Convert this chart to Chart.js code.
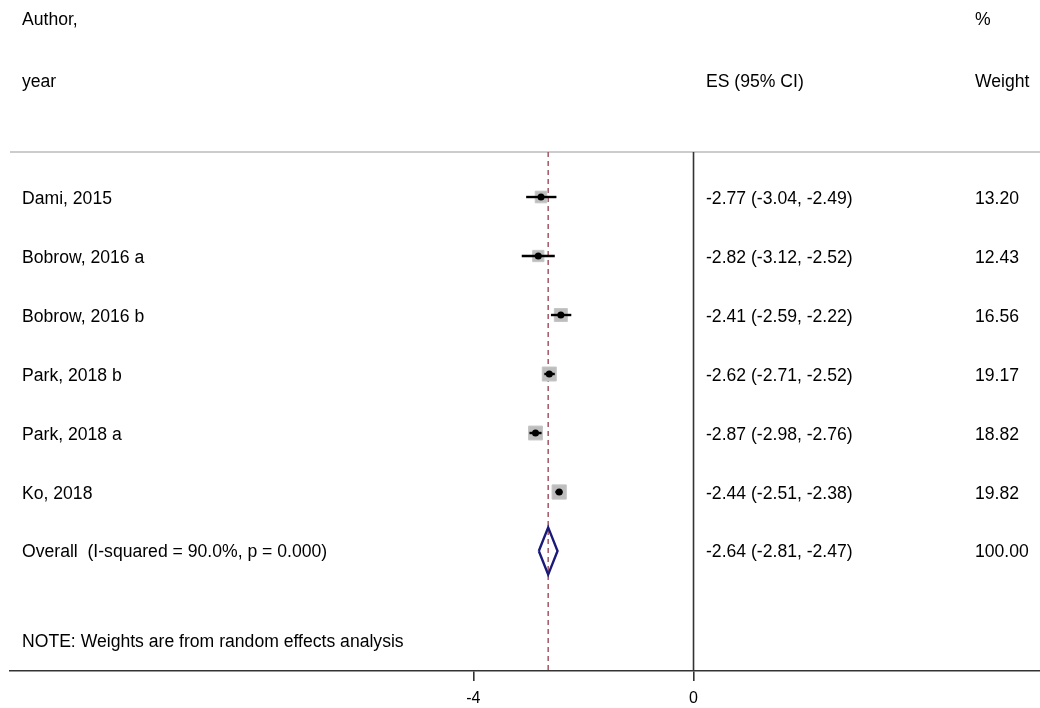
<!DOCTYPE html>
<html>
<head>
<meta charset="utf-8">
<script src="https://cdn.jsdelivr.net/npm/chart.js@4.4.1/dist/chart.umd.min.js"></script>
<style>
html,body{margin:0;padding:0;background:#fff;overflow:hidden;}
#wrap{width:1040px;height:708px;position:relative;}
canvas{display:block;}
</style>
</head>
<body>
<div id="wrap"><canvas id="c" width="1040" height="708"></canvas></div>
<script>
// ---- data ----
const studies = ['Dami, 2015','Bobrow, 2016 a','Bobrow, 2016 b','Park, 2018 b','Park, 2018 a','Ko, 2018'];
const es      = [-2.77, -2.82, -2.41, -2.62, -2.87, -2.44];
const ciLow   = [-3.04, -3.12, -2.59, -2.71, -2.98, -2.51];
const ciHigh  = [-2.49, -2.52, -2.22, -2.52, -2.76, -2.38];
const weights = [13.20, 12.43, 16.56, 19.17, 18.82, 19.82];
const overallES = -2.64, overallLow = -2.81, overallHigh = -2.47, overallWeight = 100.00;
const iSquared = '90.0%', pValue = '0.000';
const noteText = 'NOTE: Weights are from random effects analysis';
const xTickValues = [-4, 0];

// ---- layout constants ----
const X_MIN = -12.416, X_MAX = 6.294;
const Y_MIN = -0.763, Y_MAX = 8.034;
const OVERALL_ROW = studies.length;
const NOTE_ROW = 7.525;
const HEADER_ROW1 = -3.03, HEADER_ROW2 = -1.98;
const COL_LABEL = 22, COL_ES = 706, COL_W = 975;
const FONT = '17.6px "Liberation Sans", Arial, sans-serif';

const rows = studies.map((s,i)=>i);
const fmt = v => v.toFixed(2);

const datasets = [];
// top separator line
datasets.push({type:'scatter', showLine:true, data:[{x:X_MIN,y:Y_MIN},{x:X_MAX,y:Y_MIN}],
  borderColor:'#cccccc', borderWidth:2, pointRadius:0, clip:false, order:10});
// zero line
datasets.push({type:'scatter', showLine:true, data:[{x:0,y:Y_MIN},{x:0,y:Y_MAX}],
  borderColor:'#333333', borderWidth:1.6, pointRadius:0, clip:false, order:9});
// overall dashed line
datasets.push({type:'scatter', showLine:true, data:[{x:overallES,y:Y_MIN},{x:overallES,y:Y_MAX}],
  borderColor:'#9c4c5c', borderWidth:1.4, borderDash:[5,4], pointRadius:0, clip:false, order:8});
// weight boxes
datasets.push({type:'scatter', data: rows.map(i=>({x:es[i], y:i, w:weights[i]})),
  pointStyle:'rect', backgroundColor:'#bdbdbd', borderColor:'#c6c6c6', borderWidth:1,
  pointRadius: ctx => { const d = ctx.raw; return d ? 3.2*Math.sqrt(d.w)/Math.SQRT2 : 0; },
  clip:false, order:7});
// CI lines
rows.forEach(i=>{
  datasets.push({type:'scatter', showLine:true, data:[{x:ciLow[i],y:i},{x:ciHigh[i],y:i}],
    borderColor:'#000', borderWidth:2.4, pointRadius:0, clip:false, order:5});
});
// point estimates
datasets.push({type:'scatter', data: rows.map(i=>({x:es[i], y:i})),
  pointStyle:'circle', pointRadius:3.5, backgroundColor:'#000', borderColor:'#000', borderWidth:0, clip:false, order:4});
// overall diamond
const dh = 0.4;
datasets.push({type:'scatter', showLine:true, data:[
  {x:overallLow,y:OVERALL_ROW},{x:overallES,y:OVERALL_ROW-dh},{x:overallHigh,y:OVERALL_ROW},
  {x:overallES,y:OVERALL_ROW+dh},{x:overallLow,y:OVERALL_ROW}],
  borderColor:'#1a1a78', borderWidth:2.4, pointRadius:0, tension:0, clip:false, order:3});

const textPlugin = {
  id:'forestText',
  afterDatasetsDraw(chart){
    const ctx = chart.ctx, y = chart.scales.y;
    ctx.save();
    ctx.font = FONT;
    ctx.fillStyle = '#000';
    ctx.textAlign = 'left';
    ctx.textBaseline = 'alphabetic';
    const put = (t, x, row) => ctx.fillText(t, x, y.getPixelForValue(row) + 6.5);
    put('Author,', COL_LABEL, HEADER_ROW1);
    put('year', COL_LABEL, HEADER_ROW2);
    put('ES (95% CI)', COL_ES, HEADER_ROW2);
    put('%', COL_W, HEADER_ROW1);
    put('Weight', COL_W, HEADER_ROW2);
    rows.forEach(i=>{
      put(studies[i], COL_LABEL, i);
      put(fmt(es[i]) + ' (' + fmt(ciLow[i]) + ', ' + fmt(ciHigh[i]) + ')', COL_ES, i);
      put(fmt(weights[i]), COL_W, i);
    });
    put('Overall  (I-squared = ' + iSquared + ', p = ' + pValue + ')', COL_LABEL, OVERALL_ROW);
    put(fmt(overallES) + ' (' + fmt(overallLow) + ', ' + fmt(overallHigh) + ')', COL_ES, OVERALL_ROW);
    put(fmt(overallWeight), COL_W, OVERALL_ROW);
    put(noteText, COL_LABEL, NOTE_ROW);
    ctx.restore();
  }
};

new Chart(document.getElementById('c'), {
  type:'scatter',
  data:{datasets},
  options:{
    responsive:false,
    animation:false,
    devicePixelRatio:1,
    layout:{autoPadding:false, padding:{left:10,right:0,top:152,bottom:0}},
    plugins:{legend:{display:false}, tooltip:{enabled:false}},
    scales:{
      x:{
        type:'linear', min:X_MIN, max:X_MAX,
        afterBuildTicks: s => { s.ticks = xTickValues.map(v=>({value:v})); },
        afterFit: s => { s.height = 37; s.paddingLeft = 0; s.paddingRight = 0; },
        border:{display:true, color:'#333', width:1.6},
        grid:{display:true, drawOnChartArea:false, drawTicks:true, tickLength:10, color:'#333', lineWidth:1.6},
        ticks:{font:{family:'"Liberation Sans", Arial, sans-serif', size:16}, color:'#000', padding:8, maxRotation:0}
      },
      y:{type:'linear', display:false, reverse:true, min:Y_MIN, max:Y_MAX}
    }
  },
  plugins:[textPlugin]
});
</script>
</body>
</html>
